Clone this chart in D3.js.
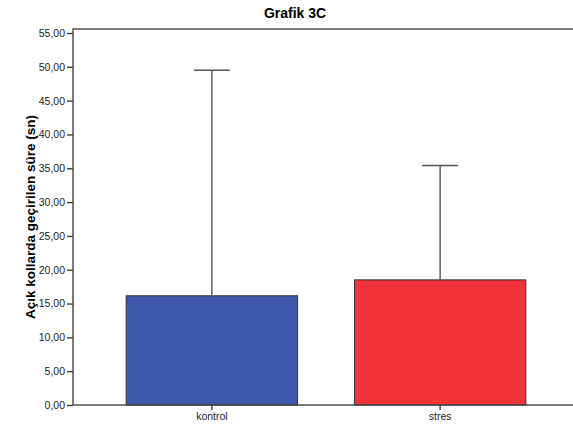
<!DOCTYPE html>
<html>
<head>
<meta charset="utf-8">
<script src="https://cdn.jsdelivr.net/npm/d3@7"></script>
<style>
  body { margin: 0; background: #fff; }
  svg { display: block; font-family: Arial, "Liberation Sans", sans-serif; }
</style>
</head>
<body>
<div id="chart"></div>
<script>
var width = 573
var height = 428

// data
var groups = ['kontrol', 'stres']
var means = [16.15, 18.5]
var upper = [49.5, 35.4]
var barColors = ['#3d58a8', '#f0323a']
var yTicks = [0, 5, 10, 15, 20, 25, 30, 35, 40, 45, 50, 55]

var margin = { top: 29, right: -6, bottom: 23, left: 73 }

var svg = d3.select('#chart')
  .append('svg')
  .attr('width', width)
  .attr('height', height)

var xScale = d3.scaleBand()
  .domain(groups)
  .range([margin.left, width - margin.right])
  .paddingInner(0.249)
  .paddingOuter(0.233)

var yScale = d3.scaleLinear()
  .domain([0, 55])
  .range([height - margin.bottom, margin.top + 4])

var fmt = d => d3.format('.2f')(d).replace('.', ',')

// Y axis
var yAxis = d3.axisLeft(yScale)
  .tickValues(yTicks)
  .tickSize(6)
  .tickPadding(2)
  .tickFormat(fmt)

svg.append('g')
  .attr('transform', `translate(${margin.left},0)`)
  .call(yAxis)
  .call(g => g.select('.domain').remove())
  .call(g => g.selectAll('line').attr('stroke', '#333').attr('stroke-width', 1.3))
  .selectAll('text')
  .style('font-size', '10.5px')
  .attr('fill', '#222')

// X axis
var xAxis = d3.axisBottom(xScale)
  .tickSize(5)
  .tickPadding(3)

svg.append('g')
  .attr('transform', `translate(0,${yScale(0)})`)
  .call(xAxis)
  .call(g => g.select('.domain').remove())
  .call(g => g.selectAll('line').attr('stroke', '#333').attr('stroke-width', 1.3))
  .selectAll('text')
  .style('font-size', '10.5px')
  .attr('fill', '#222')

// bars
svg.append('g')
  .selectAll('rect')
  .data(groups)
  .enter()
  .append('rect')
  .attr('x', d => xScale(d))
  .attr('width', xScale.bandwidth())
  .attr('y', (d, i) => yScale(means[i]))
  .attr('height', (d, i) => yScale(0) - yScale(means[i]))
  .attr('fill', (d, i) => barColors[i])
  .attr('stroke', '#333')
  .attr('stroke-width', 1)

// error bars (upper only)
var errG = svg.append('g')
  .attr('stroke', '#555')
  .attr('stroke-width', 1.4)

groups.forEach(function(g, i) {
  var cx = xScale(g) + xScale.bandwidth() / 2
  errG.append('line')
    .attr('x1', cx).attr('x2', cx)
    .attr('y1', yScale(means[i]))
    .attr('y2', yScale(upper[i]))
  errG.append('line')
    .attr('x1', cx - 18).attr('x2', cx + 18)
    .attr('y1', yScale(upper[i]))
    .attr('y2', yScale(upper[i]))
})

// frame
svg.append('rect')
  .attr('x', margin.left)
  .attr('y', margin.top)
  .attr('width', width - margin.right - margin.left)
  .attr('height', yScale(0) - margin.top)
  .attr('fill', 'none')
  .attr('stroke', '#444')
  .attr('stroke-width', 1.4)

// title
svg.append('text')
  .attr('x', 295)
  .attr('y', 18)
  .attr('text-anchor', 'middle')
  .style('font-size', '14px')
  .style('font-weight', 'bold')
  .text('Grafik 3C')

// y label
svg.append('text')
  .attr('transform', `translate(35,${(margin.top + yScale(0)) / 2}) rotate(-90)`)
  .attr('text-anchor', 'middle')
  .style('font-size', '13.5px')
  .style('font-weight', 'bold')
  .text('Açık kollarda geçirilen süre (sn)')
</script>
</body>
</html>
